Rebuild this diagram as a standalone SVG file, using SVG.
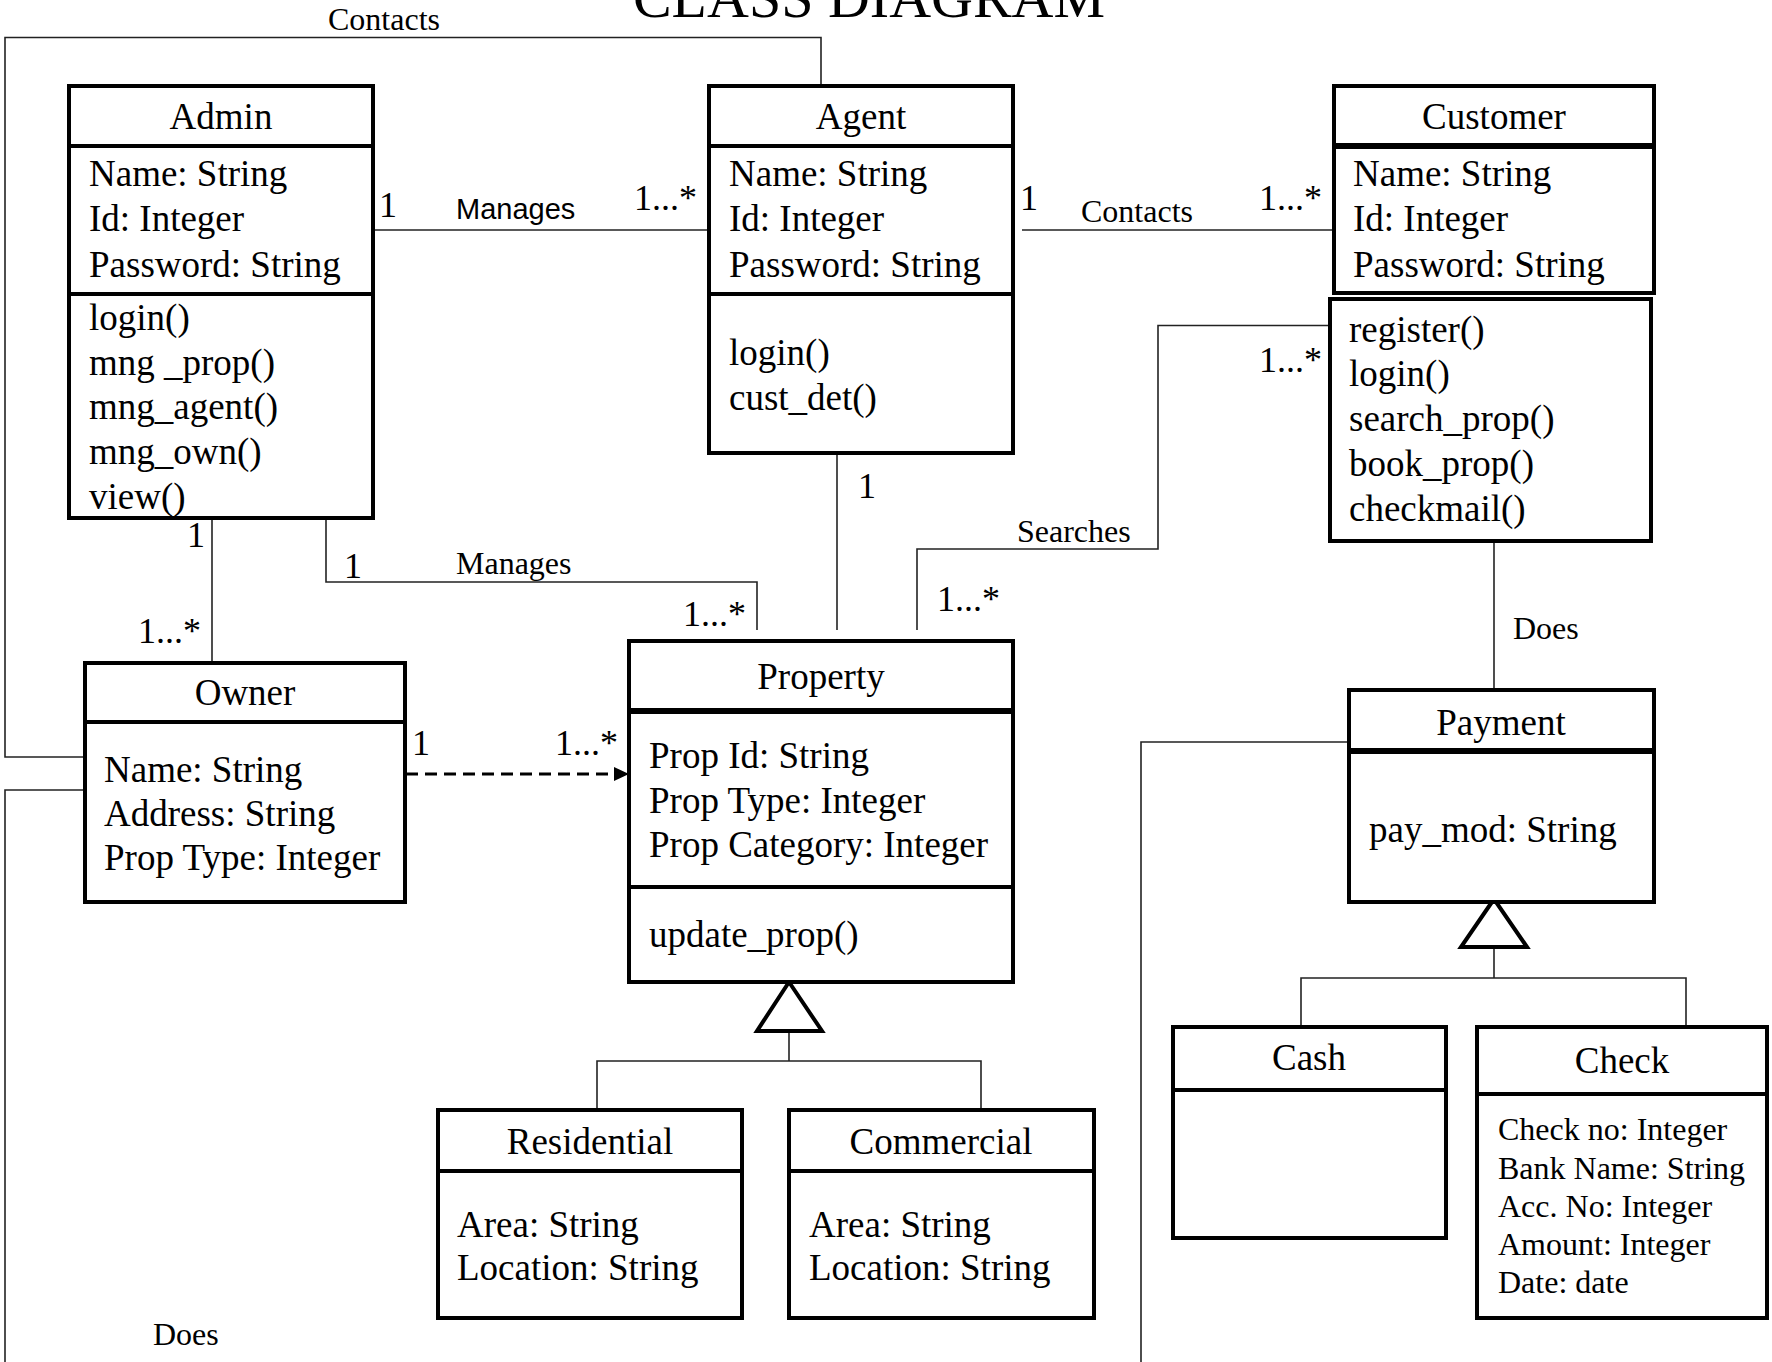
<svg xmlns="http://www.w3.org/2000/svg" width="1772" height="1362" viewBox="0 0 1772 1362">
<style>
  .box { fill: #fff; stroke: #000; stroke-width: 4; }
  .div { stroke: #000; stroke-width: 4; }
  .divt { stroke: #000; stroke-width: 6; }
  .t { font-family: "Liberation Serif", "Times New Roman", serif; font-size: 37px; fill: #000; }
  .c { text-anchor: middle; }
  .sm { font-family: "Liberation Serif", "Times New Roman", serif; font-size: 32px; fill: #000; }
  .m { font-family: "Liberation Serif", "Times New Roman", serif; font-size: 36px; fill: #000; }
  .sans { font-family: "Liberation Sans", Arial, sans-serif; font-size: 29px; fill: #000; }
  .ln { fill: none; stroke: #222; stroke-width: 1.6; }
  .gen { fill: #fff; stroke: #000; stroke-width: 4; }
</style>
<rect width="1772" height="1362" fill="#fff"/>
<text x="869" y="17" font-family="Liberation Serif, Times New Roman, serif" font-size="58" text-anchor="middle">CLASS DIAGRAM</text>

<g id="connectors">
  <path class="ln" d="M85,757 H5 V37.5 H821 V86"/>
  <path class="ln" d="M85,790 H5 V1362"/>
  <path class="ln" d="M373,230 H709"/>
  <path class="ln" d="M1022,230 H1348"/>
  <path class="ln" d="M1333,325.5 H1158 V549 H917 V630"/>
  <path class="ln" d="M837,453 V630"/>
  <path class="ln" d="M212,518 V663"/>
  <path class="ln" d="M326,518 V582 H757 V630"/>
  <path d="M406,774 H614" fill="none" stroke="#000" stroke-width="3" stroke-dasharray="12 7"/>
  <polygon points="614,767 629,774 614,781" fill="#000"/>
  <path class="ln" d="M789,1031 V1061"/>
  <path class="ln" d="M597,1110 V1061 H981 V1110"/>
  <polygon class="gen" points="789,982 757,1031 822,1031"/>
  <path class="ln" d="M1494,541 V690"/>
  <path class="ln" d="M1349,742 H1141 V1362"/>
  <path class="ln" d="M1494,947 V978"/>
  <path class="ln" d="M1301,1027 V978 H1686 V1027"/>
  <polygon class="gen" points="1494,899 1461,947 1527,947"/>

  <text class="sm" x="328" y="30">Contacts</text>
  <text class="m" x="379" y="217">1</text>
  <text class="sans" x="456" y="219">Manages</text>
  <text class="m" x="634" y="210">1...*</text>
  <text class="m" x="1020" y="210">1</text>
  <text class="sm" x="1081" y="222">Contacts</text>
  <text class="m" x="1259" y="210">1...*</text>
  <text class="m" x="1259" y="372">1...*</text>
  <text class="sm" x="1017" y="542">Searches</text>
  <text class="m" x="858" y="498">1</text>
  <text class="m" x="187" y="547">1</text>
  <text class="m" x="138" y="643">1...*</text>
  <text class="m" x="344" y="578">1</text>
  <text class="sm" x="456" y="574">Manages</text>
  <text class="m" x="683" y="626">1...*</text>
  <text class="m" x="937" y="611">1...*</text>
  <text class="m" x="412" y="755">1</text>
  <text class="m" x="555" y="755">1...*</text>
  <text class="sm" x="1513" y="639">Does</text>
  <text class="sm" x="153" y="1345">Does</text>
</g>

<g id="admin">
  <rect class="box" x="69" y="86" width="304" height="432"/>
  <line class="div" x1="69" y1="146" x2="373" y2="146"/>
  <line class="div" x1="69" y1="294" x2="373" y2="294"/>
  <text class="t c" x="221" y="129">Admin</text>
  <text class="t" x="89" y="186">Name: String</text>
  <text class="t" x="89" y="231">Id: Integer</text>
  <text class="t" x="89" y="277">Password: String</text>
  <text class="t" x="89" y="330">login()</text>
  <text class="t" x="89" y="375">mng _prop()</text>
  <text class="t" x="89" y="419">mng_agent()</text>
  <text class="t" x="89" y="464">mng_own()</text>
  <text class="t" x="89" y="509">view()</text>
</g>

<g id="agent">
  <rect class="box" x="709" y="86" width="304" height="367"/>
  <line class="div" x1="709" y1="146" x2="1013" y2="146"/>
  <line class="div" x1="709" y1="294" x2="1013" y2="294"/>
  <text class="t c" x="861" y="129">Agent</text>
  <text class="t" x="729" y="186">Name: String</text>
  <text class="t" x="729" y="231">Id: Integer</text>
  <text class="t" x="729" y="277">Password: String</text>
  <text class="t" x="729" y="365">login()</text>
  <text class="t" x="729" y="410">cust_det()</text>
</g>

<g id="customer">
  <rect class="box" x="1334" y="86" width="320" height="207"/>
  <line class="divt" x1="1334" y1="146" x2="1654" y2="146"/>
  <rect class="box" x="1330" y="299" width="321" height="242"/>
  <text class="t c" x="1494" y="129">Customer</text>
  <text class="t" x="1353" y="186">Name: String</text>
  <text class="t" x="1353" y="231">Id: Integer</text>
  <text class="t" x="1353" y="277">Password: String</text>
  <text class="t" x="1349" y="342">register()</text>
  <text class="t" x="1349" y="386">login()</text>
  <text class="t" x="1349" y="431">search_prop()</text>
  <text class="t" x="1349" y="476">book_prop()</text>
  <text class="t" x="1349" y="521">checkmail()</text>
</g>

<g id="owner">
  <rect class="box" x="85" y="663" width="320" height="239"/>
  <line class="div" x1="85" y1="722" x2="405" y2="722"/>
  <text class="t c" x="245" y="705">Owner</text>
  <text class="t" x="104" y="782">Name: String</text>
  <text class="t" x="104" y="826">Address: String</text>
  <text class="t" x="104" y="870">Prop Type: Integer</text>
</g>

<g id="property">
  <rect class="box" x="629" y="641" width="384" height="341"/>
  <line class="divt" x1="629" y1="711" x2="1013" y2="711"/>
  <line class="div" x1="629" y1="887" x2="1013" y2="887"/>
  <text class="t c" x="821" y="689">Property</text>
  <text class="t" x="649" y="768">Prop Id: String</text>
  <text class="t" x="649" y="813">Prop Type: Integer</text>
  <text class="t" x="649" y="857">Prop Category: Integer</text>
  <text class="t" x="649" y="947">update_prop()</text>
</g>

<g id="residential">
  <rect class="box" x="438" y="1110" width="304" height="208"/>
  <line class="div" x1="438" y1="1171" x2="742" y2="1171"/>
  <text class="t c" x="590" y="1154">Residential</text>
  <text class="t" x="457" y="1237">Area: String</text>
  <text class="t" x="457" y="1280">Location: String</text>
</g>

<g id="commercial">
  <rect class="box" x="789" y="1110" width="305" height="208"/>
  <line class="div" x1="789" y1="1171" x2="1094" y2="1171"/>
  <text class="t c" x="941" y="1154">Commercial</text>
  <text class="t" x="809" y="1237">Area: String</text>
  <text class="t" x="809" y="1280">Location: String</text>
</g>

<g id="payment">
  <rect class="box" x="1349" y="690" width="305" height="212"/>
  <line class="divt" x1="1349" y1="751" x2="1654" y2="751"/>
  <text class="t c" x="1501" y="735">Payment</text>
  <text class="t" x="1369" y="842">pay_mod: String</text>
</g>

<g id="cash">
  <rect class="box" x="1173" y="1027" width="273" height="211"/>
  <line class="div" x1="1173" y1="1090" x2="1446" y2="1090"/>
  <text class="t c" x="1309" y="1070">Cash</text>
</g>

<g id="check">
  <rect class="box" x="1477" y="1027" width="290" height="291"/>
  <line class="div" x1="1477" y1="1094" x2="1767" y2="1094"/>
  <text class="t c" x="1622" y="1073">Check</text>
  <text class="sm" x="1498" y="1140">Check no: Integer</text>
  <text class="sm" x="1498" y="1179">Bank Name: String</text>
  <text class="sm" x="1498" y="1217">Acc. No: Integer</text>
  <text class="sm" x="1498" y="1255">Amount: Integer</text>
  <text class="sm" x="1498" y="1293">Date: date</text>
</g>
</svg>
